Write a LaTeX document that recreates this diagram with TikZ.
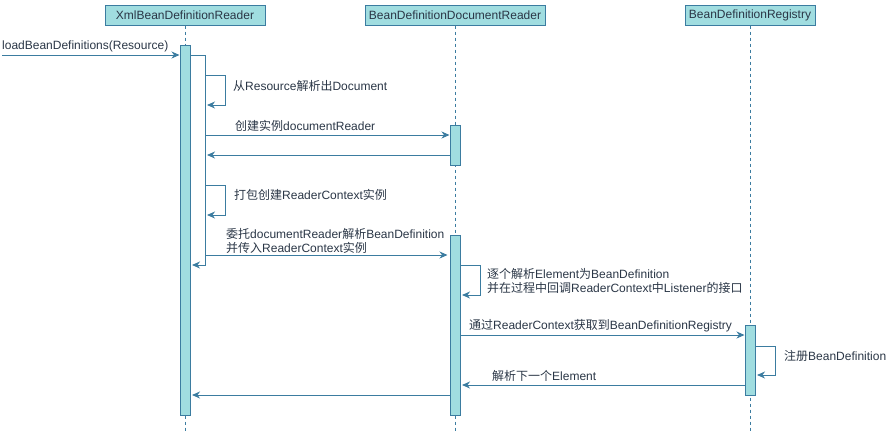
\documentclass[tikz,border=0pt]{standalone}
\usepackage{fontspec}
\setmainfont{Liberation Sans}
\newfontfamily\cjk{Noto Sans CJK SC}
\newcommand{\zh}[1]{{\cjk #1}}
\usetikzlibrary{arrows.meta}
\definecolor{fillc}{HTML}{A0DDE0}
\definecolor{linec}{HTML}{3B7CA0}
\definecolor{txtc}{HTML}{2A3646}
\begin{document}
\begin{tikzpicture}[x=1pt,y=-1pt,
  every node/.style={font=\fontsize{12}{13.7}\selectfont, text=txtc},
  head/.style={draw=linec, fill=fillc, line width=1pt, minimum height=20pt, inner sep=0pt},
  actbox/.style={draw=linec, fill=fillc, line width=1pt, minimum width=10pt, inner sep=0pt},
  life/.style={draw=linec, line width=1pt, dash pattern=on 3pt off 3pt},
  msg/.style={draw=linec, line width=1pt, -{Stealth[length=8pt,width=7pt,inset=2.5pt]}},
  lbl/.style={anchor=west, inner sep=0pt, align=left}]
\useasboundingbox (0,0) rectangle (891,432);
% headers
\node[head, minimum width=160pt] (h1) at (185,15) {XmlBeanDefinitionReader};
\node[head, minimum width=180pt] (h2) at (455,15) {BeanDefinitionDocumentReader};
\node[head, minimum width=130pt] (h3) at (750,15) {BeanDefinitionRegistry};
% activation bars (geometry)
\path (185,230) node[actbox, minimum height=370pt, draw=none, fill=none] (a1) {};
\path (455,145) node[actbox, minimum height=40pt, draw=none, fill=none] (a2) {};
\path (455,325) node[actbox, minimum height=180pt, draw=none, fill=none] (a3) {};
\path (750,360) node[actbox, minimum height=70pt, draw=none, fill=none] (a4) {};
\coordinate (e1) at (185,432);
\coordinate (e2) at (455,432);
\coordinate (e3) at (750,432);
% lifelines
\draw[life] (h1.south) -- (e1);
\draw[life] (h2.south) -- (e2);
\draw[life] (h3.south) -- (e3);
% activation bars drawn
\node[actbox, minimum height=370pt] at (a1) {};
\node[actbox, minimum height=40pt] at (a2) {};
\node[actbox, minimum height=180pt] at (a3) {};
\node[actbox, minimum height=70pt] at (a4) {};
% messages
\coordinate (src) at (2,55);
\coordinate (k1) at (205,55);
\coordinate (k2) at (205,265);
\draw[msg] (src) -- (a1.west |- src);
\draw[msg] (a1.east |- k1) -- (k1) -- (k2) -- ([xshift=1.5pt]a1.east |- k2);
\draw[msg] (205,75) -- (225,75) -- (225,105) -- (207,105);
\draw[msg] (205,135) -- (a2.west |- 0,135);
\draw[msg] (a2.west |- 0,155) -- (207,155);
\draw[msg] (205,185) -- (225,185) -- (225,215) -- (207,215);
\draw[msg] (205,255) -- ([xshift=-2pt]a3.west |- 0,255);
\draw[msg] (a3.east |- 0,265) -- (480,265) -- (480,295) -- ([xshift=1.5pt]a3.east |- 0,295);
\draw[msg] (a3.east |- 0,335) -- (a4.west |- 0,335);
\draw[msg] (a4.east |- 0,346) -- (775,346) -- (775,375) -- ([xshift=1.5pt]a4.east |- 0,375);
\draw[msg] (a4.west |- 0,385) -- ([xshift=1.5pt]a3.east |- 0,385);
\draw[msg] (a3.west |- 0,395) -- ([xshift=1.5pt]a1.east |- 0,395);
% labels
\node[lbl] (l0) at (2,46) {loadBeanDefinitions(Resource)};
\node[lbl] (l1) at (233,86) {\zh{从}Resource\zh{解析出}Document};
\node[lbl] (l2) at (235,126) {\zh{创建实例}documentReader};
\node[lbl] (l3) at (234,195) {\zh{打包创建}ReaderContext\zh{实例}};
\node[lbl] (l4) at (226,241) {\zh{委托}documentReader\zh{解析}BeanDefinition\\\zh{并传入}ReaderContext\zh{实例}};
\node[lbl] (l5) at (487,281) {\zh{逐个解析}Element\zh{为}BeanDefinition\\\zh{并在过程中回调}ReaderContext\zh{中}Listener\zh{的接口}};
\node[lbl] (l6) at (469,326) {\zh{通过}ReaderContext\zh{获取到}BeanDefinitionRegistry};
\node[lbl] (l7) at (784,356) {\zh{注册}BeanDefinition};
\node[lbl] (l8) at (492,376) {\zh{解析下一个}Element};
\end{tikzpicture}
\end{document}
